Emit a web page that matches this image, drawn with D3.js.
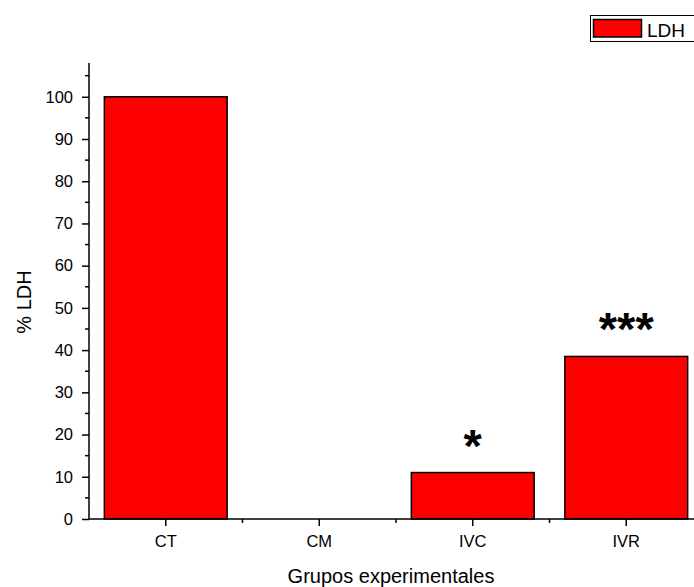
<!DOCTYPE html>
<html>
<head>
<meta charset="utf-8">
<script src="https://cdn.jsdelivr.net/npm/d3@7"></script>
<style>
  html, body { margin: 0; padding: 0; background: #fff; }
  svg { display: block; font-family: "Liberation Sans", Arial, sans-serif; }
</style>
</head>
<body>
<svg id="chart" width="694" height="587"></svg>
<script>
// Experimental groups and LDH release (% of control)
const groups = ["CT", "CM", "IVC", "IVR"];
const ldhValues = [100, 0, 11, 38.5];
const significance = ["", "", "*", "***"];
const yTicks = [0, 10, 20, 30, 40, 50, 60, 70, 80, 90, 100];
const seriesName = "LDH";

const svg = d3.select("#chart");
const margin = { left: 89, top: 63, bottom: 519 };
const plotRight = 703;
const FONT = "Liberation Sans, Arial, sans-serif";

const x = d3.scaleBand()
  .domain(groups)
  .range([margin.left, plotRight])
  .paddingInner(0.2)
  .paddingOuter(0.1);

const y = d3.scaleLinear()
  .domain([0, 108])
  .range([margin.bottom, margin.top]);

// Bars
svg.append("g")
  .selectAll("rect")
  .data(groups.map((g, i) => ({ g, v: ldhValues[i] })).filter(d => d.v > 0))
  .join("rect")
  .attr("x", d => x(d.g))
  .attr("y", d => y(d.v))
  .attr("width", x.bandwidth())
  .attr("height", d => y(0) - y(d.v))
  .attr("fill", "#ff0000")
  .attr("stroke", "#000")
  .attr("stroke-width", 1.5);

// Significance marks
svg.append("g")
  .selectAll("text")
  .data(groups.map((g, i) => ({ g, v: ldhValues[i], s: significance[i] })).filter(d => d.s))
  .join("text")
  .attr("x", d => x(d.g) + x.bandwidth() / 2)
  .attr("y", d => y(d.v) - 11)
  .attr("text-anchor", "middle")
  .style("font-family", FONT)
  .style("font-size", "47px")
  .style("font-weight", "bold")
  .text(d => d.s);

// Y axis
const yAxis = svg.append("g")
  .attr("transform", `translate(${margin.left},0)`)
  .call(d3.axisLeft(y).tickValues(yTicks).tickSize(7).tickPadding(9).tickSizeOuter(0));
yAxis.select(".domain").remove();
yAxis.append("line")
  .attr("x1", 0).attr("x2", 0)
  .attr("y1", margin.top).attr("y2", margin.bottom)
  .attr("stroke", "#000").attr("stroke-width", 1.5);
yAxis.selectAll(".tick line").attr("stroke-width", 1.5);
yAxis.selectAll(".tick text")
  .style("font-family", FONT).style("font-size", "16.5px").attr("fill", "#000");
// minor ticks
yAxis.append("g")
  .selectAll("line")
  .data(d3.range(5, 108, 10))
  .join("line")
  .attr("x1", -4).attr("x2", 0)
  .attr("y1", d => y(d)).attr("y2", d => y(d))
  .attr("stroke", "#000").attr("stroke-width", 1.5);

// X axis
const xAxis = svg.append("g")
  .attr("transform", `translate(0,${margin.bottom})`)
  .call(d3.axisBottom(x).tickSize(7).tickPadding(9).tickSizeOuter(0));
xAxis.select(".domain").remove();
xAxis.append("line")
  .attr("x1", margin.left).attr("x2", plotRight)
  .attr("y1", 0).attr("y2", 0)
  .attr("stroke", "#000").attr("stroke-width", 1.5);
xAxis.selectAll(".tick line").attr("stroke-width", 1.5);
xAxis.selectAll(".tick text")
  .style("font-family", FONT).style("font-size", "16.5px").attr("fill", "#000");
// minor ticks between groups
xAxis.append("g")
  .selectAll("line")
  .data(groups.slice(1))
  .join("line")
  .attr("x1", d => x(d) - x.step() * x.paddingInner() / 2)
  .attr("x2", d => x(d) - x.step() * x.paddingInner() / 2)
  .attr("y1", 0).attr("y2", 4)
  .attr("stroke", "#000").attr("stroke-width", 1.5);

// Axis titles
svg.append("text")
  .attr("x", 391)
  .attr("y", 583)
  .attr("text-anchor", "middle")
  .style("font-family", FONT)
  .style("font-size", "20px")
  .text("Grupos experimentales");

svg.append("text")
  .attr("transform", "translate(31,302) rotate(-90)")
  .attr("text-anchor", "middle")
  .style("font-family", FONT)
  .style("font-size", "20px")
  .text("% " + seriesName);

// Legend
const legend = svg.append("g");
legend.append("rect")
  .attr("x", 590.5).attr("y", 15.5)
  .attr("width", 110).attr("height", 26)
  .attr("fill", "#fff").attr("stroke", "#000").attr("stroke-width", 1);
legend.append("rect")
  .attr("x", 593.5).attr("y", 19.5)
  .attr("width", 48).attr("height", 17.5)
  .attr("fill", "#ff0000").attr("stroke", "#000").attr("stroke-width", 1.5);
legend.append("text")
  .attr("x", 647).attr("y", 37)
  .style("font-family", FONT)
  .style("font-size", "19px")
  .text(seriesName);
</script>
</body>
</html>
